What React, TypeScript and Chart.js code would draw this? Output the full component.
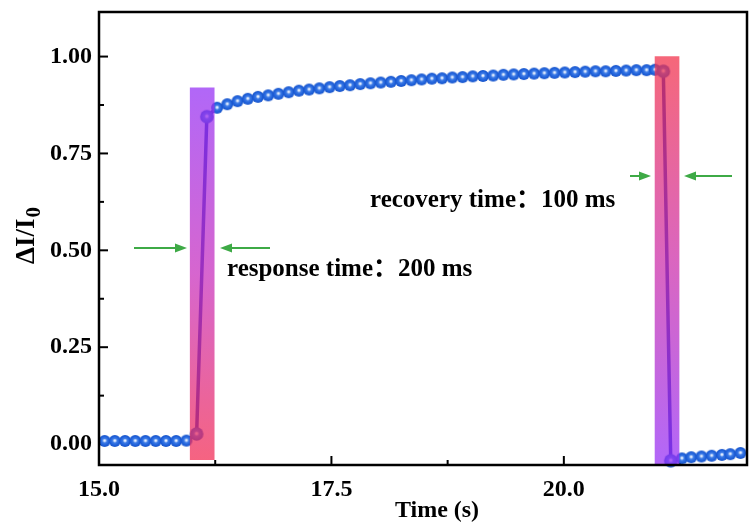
import React, { useEffect, useRef } from 'react';
import { Chart, registerables } from 'chart.js';

Chart.register(...registerables);

// ---------- data ----------
const timeS = [
  15.06, 15.17, 15.28, 15.39, 15.50, 15.61, 15.72, 15.83, 15.94,
  16.05, 16.16,
  16.27, 16.38, 16.49, 16.60, 16.71, 16.82, 16.93, 17.04, 17.15, 17.26,
  17.37, 17.48, 17.59, 17.70, 17.81, 17.92, 18.03, 18.14, 18.25, 18.36,
  18.47, 18.58, 18.69, 18.80, 18.91, 19.02, 19.13, 19.24, 19.35, 19.46,
  19.57, 19.68, 19.79, 19.90, 20.01, 20.12, 20.23, 20.34, 20.45, 20.56,
  20.67, 20.78, 20.89, 20.98,
  21.07, 21.15,
  21.27, 21.37, 21.48, 21.59, 21.70, 21.79, 21.90,
];
const deltaI = [
  0.008, 0.008, 0.008, 0.008, 0.008, 0.008, 0.008, 0.008, 0.009,
  0.026, 0.845,
  0.868, 0.877, 0.885, 0.891, 0.896, 0.900, 0.904, 0.908, 0.912, 0.915,
  0.918, 0.921, 0.924, 0.926, 0.929, 0.931, 0.933, 0.935, 0.937, 0.939,
  0.941, 0.943, 0.944, 0.946, 0.947, 0.949, 0.950, 0.951, 0.953, 0.954,
  0.955, 0.956, 0.957, 0.958, 0.959, 0.960, 0.961, 0.962, 0.962, 0.963,
  0.964, 0.965, 0.965, 0.966,
  0.962, -0.043,
  -0.037, -0.034, -0.032, -0.030, -0.028, -0.026, -0.023,
];
const transitionTimes = [16.05, 16.16, 21.07, 21.15];

const xTicks = [15.0, 17.5, 20.0];
const xTickLabels = ['15.0', '17.5', '20.0'];
const xMinorTicks = [16.25, 18.75, 21.25];
const yTicks = [0, 0.25, 0.5, 0.75, 1.0];
const yTickLabels = ['0.00', '0.25', '0.50', '0.75', '1.00'];
const yMinorTicks = [0.125, 0.375, 0.625, 0.875];

// highlighted response / recovery windows
const windowCenters = [16.11, 21.11];
const windowLows = [-0.04, -0.06];
const windowHighs = [0.919, 1.0];

const responseText = 'response time：200 ms';
const recoveryText = 'recovery time：100 ms';
const xTitle = 'Time (s)';
const yTitleMain = 'ΔI/I';
const yTitleSub = '0';

const FONT = "'Times New Roman', 'Liberation Serif', 'Noto Sans CJK SC', serif";

function makeBall(r: number): HTMLCanvasElement {
  const size = Math.ceil(r * 2) + 2;
  const c = document.createElement('canvas');
  c.width = size;
  c.height = size;
  const g = c.getContext('2d')!;
  const cx = size / 2;
  const cy = size / 2;
  const grad = g.createRadialGradient(cx, cy - r * 0.08, 0, cx, cy, r);
  grad.addColorStop(0, '#ffffff');
  grad.addColorStop(0.14, '#d6e5fc');
  grad.addColorStop(0.38, '#3d7be6');
  grad.addColorStop(0.75, '#1e60da');
  grad.addColorStop(1, '#1a55c8');
  g.fillStyle = grad;
  g.beginPath();
  g.arc(cx, cy, r, 0, Math.PI * 2);
  g.fill();
  return c;
}

function drawArrow(ctx: CanvasRenderingContext2D, x0: number, x1: number, y: number) {
  const dir = Math.sign(x1 - x0);
  const head = 12;
  const hw = 4.5;
  ctx.beginPath();
  ctx.moveTo(x0, y);
  ctx.lineTo(x1 - dir * head * 0.7, y);
  ctx.stroke();
  ctx.beginPath();
  ctx.moveTo(x1, y);
  ctx.lineTo(x1 - dir * head, y - hw);
  ctx.lineTo(x1 - dir * head, y + hw);
  ctx.closePath();
  ctx.fill();
}

const decorPlugin = {
  id: 'decor',
  beforeDraw(chart: any) {
    const { ctx, width, height } = chart;
    ctx.save();
    ctx.fillStyle = '#ffffff';
    ctx.fillRect(0, 0, width, height);
    ctx.restore();
  },
  beforeDatasetsDraw(chart: any) {
    const { ctx, chartArea: a, scales } = chart;
    const xs = scales.x;
    const ys = scales.y;
    ctx.save();
    ctx.strokeStyle = '#000';
    ctx.lineWidth = 2;
    const seg = (x0: number, y0: number, x1: number, y1: number) => {
      ctx.beginPath();
      ctx.moveTo(x0, y0);
      ctx.lineTo(x1, y1);
      ctx.stroke();
    };
    yTicks.forEach((v) => {
      const p = ys.getPixelForValue(v);
      seg(a.left, p, a.left + 9, p);
    });
    yMinorTicks.forEach((v) => {
      const p = ys.getPixelForValue(v);
      seg(a.left, p, a.left + 5, p);
    });
    xTicks.forEach((v) => {
      const p = xs.getPixelForValue(v);
      seg(p, a.bottom, p, a.bottom - 9);
    });
    xMinorTicks.forEach((v) => {
      const p = xs.getPixelForValue(v);
      seg(p, a.bottom, p, a.bottom - 5);
    });
    ctx.restore();
  },
  afterDraw(chart: any) {
    const { ctx, chartArea: a } = chart;
    ctx.save();
    // frame
    ctx.strokeStyle = '#000';
    ctx.lineWidth = 2.5;
    ctx.strokeRect(a.left, a.top, a.right - a.left, a.bottom - a.top);

    // arrows
    ctx.strokeStyle = 'rgb(62,170,70)';
    ctx.fillStyle = 'rgb(62,170,70)';
    ctx.lineWidth = 2;
    drawArrow(ctx, 134, 187, 248);
    drawArrow(ctx, 270, 220, 248);
    drawArrow(ctx, 630, 651, 176);
    drawArrow(ctx, 732, 684, 176);

    // annotations
    ctx.fillStyle = '#000';
    ctx.font = `bold 25px ${FONT}`;
    ctx.textAlign = 'left';
    ctx.textBaseline = 'middle';
    ctx.fillText(responseText, 227, 270);
    ctx.fillText(recoveryText, 370, 201);

    // x title
    ctx.font = `bold 24px ${FONT}`;
    ctx.textAlign = 'center';
    ctx.textBaseline = 'middle';
    ctx.fillText(xTitle, 437, 511);

    // y title (rotated, with subscript)
    ctx.save();
    ctx.translate(34, 264);
    ctx.rotate(-Math.PI / 2);
    ctx.textAlign = 'left';
    ctx.textBaseline = 'alphabetic';
    ctx.font = `bold 27px ${FONT}`;
    ctx.fillText(yTitleMain, 0, 0);
    const w = ctx.measureText(yTitleMain).width;
    ctx.font = `bold 21px ${FONT}`;
    ctx.fillText(yTitleSub, w + 1, 6);
    ctx.restore();

    ctx.restore();
  },
};

export default function App() {
  const canvasRef = useRef<HTMLCanvasElement | null>(null);

  useEffect(() => {
    const canvas = canvasRef.current;
    if (!canvas) return;
    const smallBall = makeBall(6);
    const bigBall = makeBall(6.8);

    const tickFont = { family: FONT, size: 24, weight: 'bold' as const };

    const chart = new Chart(canvas, {
      type: 'scatter',
      data: {
        datasets: [
          {
            type: 'bar',
            data: windowCenters.map((c, i) => ({ x: c, y: [windowLows[i], windowHighs[i]] })) as any,
            barThickness: 24,
            grouped: false,
            borderWidth: 0,
            order: 0,
            backgroundColor: (ctx: any) => {
              const chart = ctx.chart;
              if (!chart.chartArea || ctx.dataIndex === undefined) return 'rgba(0,0,0,0)';
              const ys = chart.scales.y;
              const i = ctx.dataIndex;
              const top = ys.getPixelForValue(windowHighs[i]);
              const bot = ys.getPixelForValue(windowLows[i]);
              const g = chart.ctx.createLinearGradient(0, top, 0, bot);
              if (i === 0) {
                g.addColorStop(0, 'rgba(150,50,245,0.74)');
                g.addColorStop(0.5, 'rgba(200,48,190,0.74)');
                g.addColorStop(1, 'rgba(242,45,85,0.74)');
              } else {
                g.addColorStop(0, 'rgba(242,50,75,0.74)');
                g.addColorStop(0.5, 'rgba(205,48,170,0.74)');
                g.addColorStop(1, 'rgba(150,50,248,0.74)');
              }
              return g;
            },
          } as any,
          {
            type: 'line',
            data: timeS.map((t, i) => ({ x: t, y: deltaI[i] })),
            borderColor: '#1a2cc0',
            borderWidth: 3.5,
            showLine: true,
            tension: 0,
            fill: false,
            clip: false as any,
            order: 1,
            pointRadius: 6,
            pointStyle: (ctx: any) =>
              transitionTimes.includes(timeS[ctx.dataIndex]) ? bigBall : smallBall,
          } as any,
        ],
      },
      options: {
        responsive: false,
        animation: false,
        events: [],
        layout: { autoPadding: false, padding: { top: 12, right: 4, left: 0, bottom: 0 } },
        plugins: {
          legend: { display: false },
          tooltip: { enabled: false },
        },
        scales: {
          x: {
            type: 'linear',
            min: 15.0,
            max: 21.97,
            offset: false,
            grid: { display: false, drawTicks: false, offset: false },
            border: { display: false },
            afterBuildTicks: (s: any) => {
              s.ticks = xTicks.map((v) => ({ value: v }));
            },
            afterFit: (s: any) => {
              s.height = 61;
              s.paddingLeft = 0;
              s.paddingRight = 0;
            },
            ticks: {
              autoSkip: false,
              maxRotation: 0,
              padding: 10,
              color: '#000',
              font: tickFont,
              callback: (v: any) => xTickLabels[xTicks.indexOf(Number(v))] ?? '',
            },
          },
          y: {
            type: 'linear',
            min: -0.054,
            max: 1.115,
            grid: { display: false, drawTicks: false },
            border: { display: false },
            afterBuildTicks: (s: any) => {
              s.ticks = yTicks.map((v) => ({ value: v }));
            },
            afterFit: (s: any) => {
              s.width = 99;
              s.paddingTop = 0;
              s.paddingBottom = 0;
            },
            ticks: {
              autoSkip: false,
              padding: 7,
              color: '#000',
              font: tickFont,
              callback: (v: any) => yTickLabels[yTicks.indexOf(Number(v))] ?? '',
            },
          },
        },
      },
      plugins: [decorPlugin],
    });

    return () => {
      chart.destroy();
    };
  }, []);

  return (
    <div style={{ position: 'absolute', left: 0, top: 0, width: 751, height: 526, background: '#fff' }}>
      <canvas ref={canvasRef} width={751} height={526} style={{ display: 'block' }} />
    </div>
  );
}
